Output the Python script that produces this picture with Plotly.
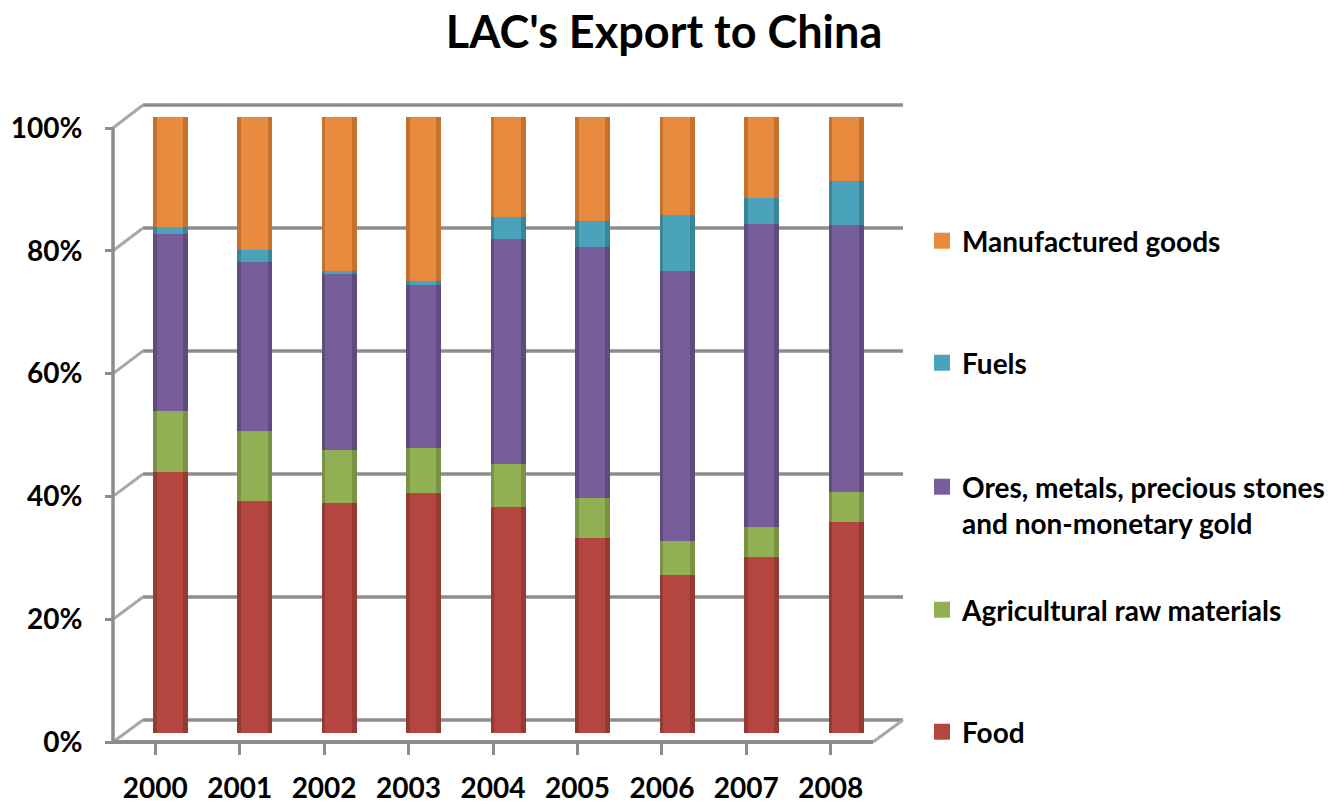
import plotly.graph_objects as go

# ---------------- data (percent shares) ----------------
years = ["2000", "2001", "2002", "2003", "2004", "2005", "2006", "2007", "2008"]
food = [42.3, 37.6, 37.4, 39.0, 36.7, 31.7, 25.7, 28.6, 34.3]
agri = [9.9, 11.5, 8.6, 7.3, 7.0, 6.5, 5.4, 4.9, 4.9]
ores = [28.8, 27.3, 28.5, 26.5, 36.5, 40.7, 43.9, 49.1, 43.2]
fuels = [1.1, 2.0, 0.5, 0.5, 3.5, 4.2, 9.1, 4.2, 7.2]
manuf = [17.9, 21.6, 25.0, 26.7, 16.3, 16.9, 15.9, 13.2, 10.4]
series_names = ["Food", "Agricultural raw materials",
                "Ores, metals, precious stones<br>and non-monetary gold",
                "Fuels", "Manufactured goods"]
series_values = [food, agri, ores, fuels, manuf]
series_colors = ["#B5463F", "#93AF53", "#775E9B", "#4AA3BB", "#E88B3E"]
series_dark = ["#963A34", "#7A9244", "#604B7F", "#3A8699", "#C47230"]
y_ticks = [0, 20, 40, 60, 80, 100]
y_tick_text = ["0%", "20%", "40%", "60%", "80%", "100%"]

W, H = 1344, 807
FONT = "Lato"
GRID = "#8C8C8C"


def px(x):
    return x / W


def py(y):
    return 1 - y / H


fig = go.Figure()

BAR_W = 0.414
BAR_OFF = -0.026
# cylinder look: darker full-width body, lighter narrower core on an overlaid axis
for name, vals, dark in zip(series_names, series_values, series_dark):
    fig.add_trace(go.Bar(
        x=list(range(len(years))), y=vals, name=name,
        marker=dict(color=dark, line=dict(width=0)),
        width=BAR_W, offset=BAR_OFF,
        showlegend=False, xaxis="x", yaxis="y", hoverinfo="skip",
    ))
for name, vals, col in zip(series_names, series_values, series_colors):
    fig.add_trace(go.Bar(
        x=list(range(len(years))), y=vals, name=name,
        marker=dict(color=col, line=dict(width=0)),
        width=BAR_W * 0.76, offset=BAR_OFF + BAR_W * 0.10,
        showlegend=False, xaxis="x2", yaxis="y4",
    ))

# legend entries (one legend per item so they can be placed like the original)
legend_ids = ["legend", "legend2", "legend3", "legend4", "legend5"]
for name, col, lid in zip(series_names, series_colors, legend_ids):
    fig.add_trace(go.Scatter(
        x=[None], y=[None], mode="markers", name=name,
        marker=dict(symbol="square", size=18, color=col),
        legend=lid, xaxis="x", yaxis="y",
    ))

ydom = [py(745), py(100)]
shapes = []
for v in y_ticks:
    # back wall gridlines
    shapes.append(dict(type="line", xref="paper", yref="y3",
                       x0=px(143), x1=px(903), y0=v, y1=v,
                       line=dict(color=GRID, width=3.5), layer="below"))
    # connectors from front ticks to back wall
    shapes.append(dict(type="line", xref="paper", yref="paper",
                       x0=px(113), y0=py(742 - 6.14 * v),
                       x1=px(143), y1=py(720 - 6.15 * v),
                       line=dict(color="#A8A8A8", width=3), layer="below"))
# front vertical axis line
shapes.append(dict(type="line", xref="paper", yref="y2",
                   x0=px(113), x1=px(113), y0=0, y1=100,
                   line=dict(color=GRID, width=3.5), layer="below"))
# right floor edge
shapes.append(dict(type="line", xref="paper", yref="paper",
                   x0=px(873), y0=py(742), x1=px(903), y1=py(720),
                   line=dict(color="#A8A8A8", width=3), layer="below"))

leg_common = dict(font=dict(family=FONT, size=28, color="black", weight="bold"),
                  bgcolor="rgba(0,0,0,0)", xanchor="left", x=px(922),
                  itemclick=False, itemdoubleclick=False)

y_rng = [-(745 - 733) / 6.16, (733 - 100) / 6.16]
fig.update_layout(
    width=W, height=H, autosize=False,
    margin=dict(l=0, r=0, t=0, b=0, autoexpand=False),
    paper_bgcolor="white", plot_bgcolor="rgba(0,0,0,0)",
    barmode="stack",
    title=dict(text="LAC's Export to China", x=px(664), xanchor="center",
               y=py(32), yanchor="middle",
               font=dict(family=FONT, size=45, color="black", weight="bold")),
    xaxis=dict(domain=[px(113), px(873)], range=[-0.5, 8.5], automargin=False,
               tickmode="array", tickvals=list(range(len(years))), ticktext=years,
               ticks="outside", ticklen=11, tickwidth=3, tickcolor=GRID,
               tickson="boundaries",
               showline=True, linecolor=GRID, linewidth=3.5,
               showgrid=False, zeroline=False,
               anchor="free", position=py(742),
               ticklabelstandoff=10,
               tickfont=dict(family=FONT, size=28, color="black", weight="bold")),
    xaxis2=dict(overlaying="x", range=[-0.5, 8.5], visible=False, automargin=False),
    yaxis=dict(domain=ydom, range=y_rng, automargin=False,
               showticklabels=False, showgrid=False, zeroline=False,
               showline=False, ticks=""),
    yaxis4=dict(overlaying="y", range=y_rng, visible=False, automargin=False),
    yaxis2=dict(overlaying="y", anchor="free", position=px(113),
                range=[-(745 - 742) / 6.14, (742 - 100) / 6.14], automargin=False,
                tickmode="array", tickvals=y_ticks, ticktext=y_tick_text,
                ticks="outside", ticklen=8, tickwidth=3, tickcolor=GRID,
                showgrid=False, zeroline=False, showline=False,
                ticklabelstandoff=17,
                tickfont=dict(family=FONT, size=28, color="black", weight="bold")),
    yaxis3=dict(overlaying="y", anchor="free", position=px(113),
                range=[-(745 - 720) / 6.15, (720 - 100) / 6.15], automargin=False,
                showticklabels=False, showgrid=False, zeroline=False,
                showline=False, ticks=""),
    shapes=shapes,
    legend=dict(**leg_common, y=py(732), yanchor="middle"),
    legend2=dict(**leg_common, y=py(610), yanchor="middle"),
    legend3=dict(**leg_common, y=py(462), yanchor="top", valign="top"),
    legend4=dict(**leg_common, y=py(363), yanchor="middle"),
    legend5=dict(**leg_common, y=py(241), yanchor="middle"),
)

fig.write_html(
    "out.html",
    config={"displayModeBar": False},
    post_script=(
        "document.documentElement.style.margin='0';"
        "document.body.style.margin='0';"
        "document.documentElement.style.overflow='hidden';"
        "document.body.style.overflow='hidden';"
        "var d=document.getElementById('{plot_id}');"
        "d.style.position='fixed';d.style.left='0px';d.style.top='0px';"
    ),
)
